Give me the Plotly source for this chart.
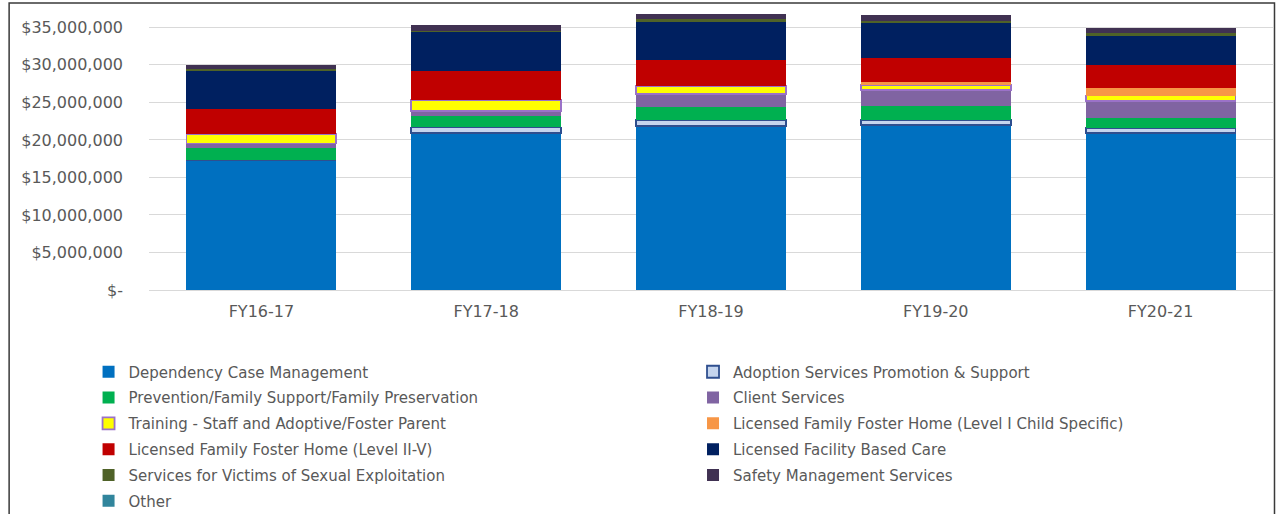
import plotly.graph_objects as go

years = ["FY16-17", "FY17-18", "FY18-19", "FY19-20", "FY20-21"]

# values in millions of dollars
dependency_case_mgmt = [17.33, 20.90, 21.90, 22.00, 20.89]
adoption_services = [0.0, 0.76, 0.76, 0.67, 0.67]
prevention_family = [1.60, 1.47, 1.78, 1.91, 1.33]
client_services = [0.60, 0.76, 1.64, 2.04, 2.31]
training = [1.24, 1.47, 1.11, 0.71, 0.71]
foster_level_one = [0.0, 0.0, 0.0, 0.36, 1.07]
foster_level_two_five = [3.33, 3.87, 3.47, 3.20, 3.02]
facility_care = [5.20, 5.16, 5.10, 4.67, 3.91]
sexual_exploitation = [0.10, 0.10, 0.35, 0.30, 0.31]
safety_management = [0.55, 0.80, 0.67, 0.80, 0.67]
other = [0.0, 0.0, 0.0, 0.0, 0.0]

y_tick_vals = [0, 5, 10, 15, 20, 25, 30, 35]
y_tick_text = ["$-", "$5,000,000", "$10,000,000", "$15,000,000", "$20,000,000",
               "$25,000,000", "$30,000,000", "$35,000,000"]

series = [
    ("Dependency Case Management", dependency_case_mgmt, "#0070C0", None, "legend"),
    ("Adoption Services Promotion & Support", adoption_services, "#C5D5EE", "#2F4F8F", "legend2"),
    ("Prevention/Family Support/Family Preservation", prevention_family, "#00B050", None, "legend"),
    ("Client Services", client_services, "#8064A2", None, "legend2"),
    ("Training - Staff and Adoptive/Foster Parent", training, "#FFFF00", "#9B72C8", "legend"),
    ("Licensed Family Foster Home (Level I Child Specific)", foster_level_one, "#F79646", None, "legend2"),
    ("Licensed Family Foster Home (Level II-V)", foster_level_two_five, "#C00000", None, "legend"),
    ("Licensed Facility Based Care", facility_care, "#002060", None, "legend2"),
    ("Services for Victims of Sexual Exploitation", sexual_exploitation, "#4F6228", None, "legend"),
    ("Safety Management Services", safety_management, "#403152", None, "legend2"),
    ("Other", other, "#31859C", None, "legend"),
]

M = 1_000_000
fig = go.Figure()
for i, (name, vals, color, outline, leg) in enumerate(series):
    fig.add_trace(go.Bar(
        x=years,
        y=[v * M for v in vals],
        name=name,
        legend=leg,
        legendgroup=f"g{i}",
        marker=dict(color=color,
                    line=dict(color=outline if outline else color,
                              width=1.8 if outline else 0)),
    ))

W, H = 1279, 514
L, R, T, B = 148.5, 5.5, 4, 224
pw = W - L - R
ph = H - T - B


def px_x(p):
    return (p - L) / pw


def px_y(p):
    return (H - B - p) / ph


legend_font = dict(family="DejaVu Sans", size=15, color="#595959")
tick_font = dict(family="DejaVu Sans", size=16, color="#595959")

fig.update_layout(
    template="none",
    width=W, height=H,
    barmode="stack",
    bargap=0.333,
    paper_bgcolor="white",
    plot_bgcolor="white",
    margin=dict(l=L, r=R, t=T, b=B, autoexpand=False),
    showlegend=True,
    legend=dict(
        orientation="v", traceorder="grouped", tracegroupgap=3.3,
        x=px_x(88), xanchor="left", y=px_y(355.5), yanchor="top",
        font=legend_font, bgcolor="rgba(0,0,0,0)", itemclick=False,
    ),
    legend2=dict(
        orientation="v", traceorder="grouped", tracegroupgap=3.3,
        x=px_x(693), xanchor="left", y=px_y(355.5), yanchor="top",
        font=legend_font, bgcolor="rgba(0,0,0,0)", itemclick=False,
    ),
    xaxis=dict(
        type="category",
        showgrid=False, showline=False, zeroline=False, ticks="",
        tickfont=tick_font,
        ticklabelstandoff=10,
    ),
    yaxis=dict(
        range=[0, (H - B - T) / 7.505 * M],
        tickvals=[v * M for v in y_tick_vals],
        ticktext=y_tick_text,
        showgrid=True, gridcolor="#D9D9D9", gridwidth=1,
        zeroline=True, zerolinecolor="#D9D9D9", zerolinewidth=1,
        showline=False, ticks="",
        tickfont=tick_font,
        ticklabelstandoff=25,
    ),
    shapes=[dict(
        type="rect", xref="paper", yref="paper",
        x0=px_x(8.5), x1=px_x(1275), y0=px_y(530), y1=px_y(3),
        line=dict(color="#3A3A3A", width=1.5), fillcolor="rgba(0,0,0,0)",
        layer="above",
    )],
)

fig.write_html(
    "out.html",
    config={"displayModeBar": False},
    post_script="document.body.style.margin='0';document.body.style.overflow='hidden';",
)
